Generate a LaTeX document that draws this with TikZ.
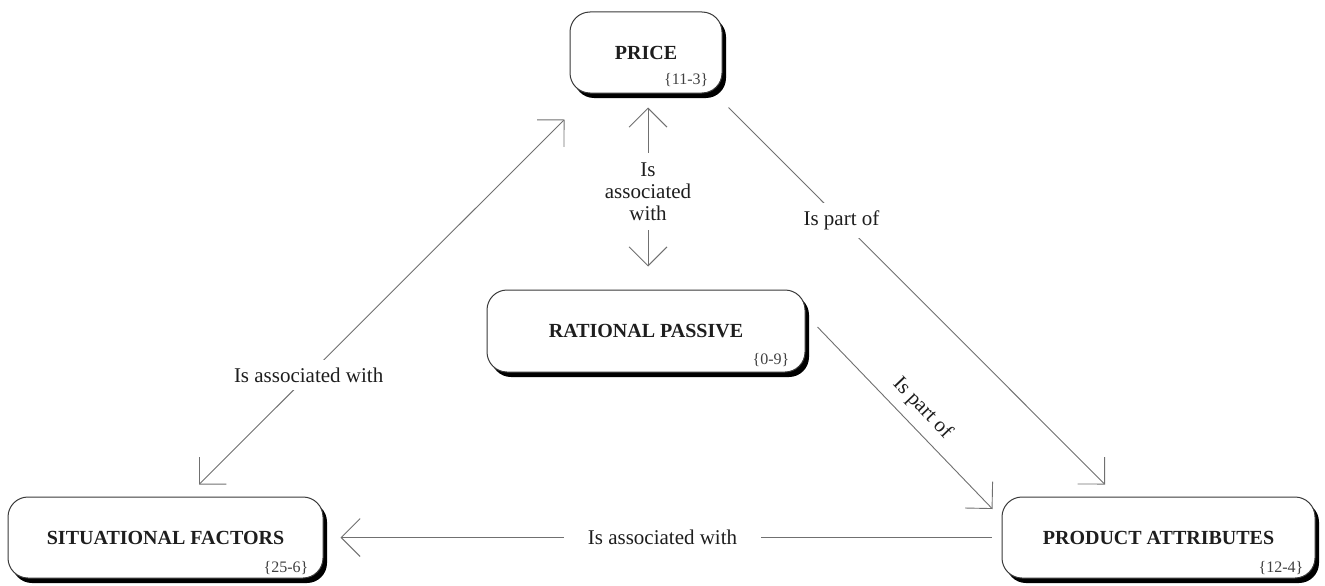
\documentclass[tikz,border=0pt]{standalone}
\usepackage{fontspec}
\setmainfont{Liberation Serif}
\usetikzlibrary{arrows.meta,calc,shadows}
\definecolor{linegray}{HTML}{707070}
\definecolor{boxline}{HTML}{3A3A3A}
\definecolor{ink}{HTML}{1E1E1E}
\tikzset{barb/.tip={Straight Barb[length=19pt,width=38pt]}}
\begin{document}
\begin{tikzpicture}[x=1pt,y=-1pt,
  concept/.style={draw=boxline, line width=1pt, fill=white, rounded corners=20pt,
     drop shadow={shadow xshift=4pt, shadow yshift=-5pt, shadow scale=1, fill=black, opacity=1},
     font=\fontsize{20}{24}\selectfont\bfseries, text=ink, inner sep=0pt},
  code/.style={font=\fontsize{16}{19}\selectfont, text=ink!85, anchor=south east, inner sep=0pt},
  rel/.style={draw=linegray, line width=0.9pt, -barb},
  lab/.style={fill=white, font=\fontsize{21}{22}\selectfont, text=ink, inner sep=8pt},
  slab/.style={font=\fontsize{21}{22}\selectfont, text=ink, inner sep=0pt},
]
\path[use as bounding box] (0,0) rectangle (1325,586);

% concept boxes
\node[concept, minimum width=152pt, minimum height=81pt] (price) at (646,52.5) {PRICE};
\node[concept, minimum width=318pt, minimum height=82pt] (rational) at (646,331) {RATIONAL PASSIVE};
\node[concept, minimum width=315pt, minimum height=81pt] (sit) at (165.5,537.5) {SITUATIONAL FACTORS};
\node[concept, minimum width=313pt, minimum height=81pt] (prod) at (1158.5,537.5) {PRODUCT ATTRIBUTES};

% frequency codes
\node[code] (pricecode) at ($(price.south east)+(-14,-7)$) {\{11-3\}};
\node[code] (ratcode) at ($(rational.south east)+(-16,-6)$) {\{0-9\}};
\node[code] (sitcode) at ($(sit.south east)+(-15,-4)$) {\{25-6\}};
\node[code] (prodcode) at ($(prod.south east)+(-12,-4)$) {\{12-4\}};

% connector end points
\coordinate (sitTip) at ($(sit.north)+(33.5,-12)$);
\coordinate (priceTipL) at ($(price.south west)+(-5,26)$);
\coordinate (priceOutR) at ($(price.south east)+(6,14)$);
\coordinate (prodTipTop) at ($(prod.north)+(-53.5,-12)$);
\coordinate (ratOut) at ($(rational.east)+(12,-4)$);
\coordinate (prodTipLeft) at ($(prod.west)+(-9,-28.5)$);

% relations
\draw[rel, barb-barb, shorten <=23pt, shorten >=14pt]
  (rational.north -| 648,0) -- node[lab, align=center, inner ysep=10pt] {Is\\associated\\with} (price.south -| 648,0);
\draw[rel, barb-barb] (sitTip) -- node[lab, pos=0.3] {Is associated with} (priceTipL);
\draw[rel] (priceOutR) -- node[lab, pos=0.3] {Is part of} (prodTipTop);
\draw[rel] (ratOut) -- node[slab, sloped, above=9pt, pos=0.52] {Is part of} (prodTipLeft);
\draw[rel, shorten <=10pt, shorten >=17pt] (prod.west) -- node[lab, inner xsep=24pt] {Is associated with} (sit.east);
\end{tikzpicture}
\end{document}
